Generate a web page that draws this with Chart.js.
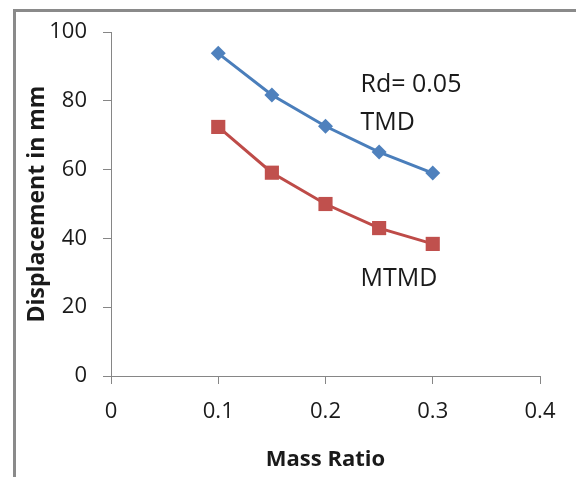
<!DOCTYPE html>
<html>
<head>
<meta charset="utf-8">
<script src="https://cdn.jsdelivr.net/npm/chart.js@4"></script>
<style>
  html, body { margin: 0; padding: 0; background: #fff; }
  #wrap { position: relative; width: 576px; height: 477px; }
</style>
</head>
<body>
<div id="wrap"><canvas id="chart" width="576" height="477"></canvas></div>
<script>
// values
const massRatio = [0.1, 0.15, 0.2, 0.25, 0.3];
const tmd = [93.8, 81.7, 72.6, 65.1, 59.0];
const mtmd = [72.4, 59.1, 50.0, 43.0, 38.4];

// text notes placed in data coordinates
const notes = [
  { text: 'Rd= 0.05', x: 0.2326, y: 82.6 },
  { text: 'TMD', x: 0.2326, y: 71.6 },
  { text: 'MTMD', x: 0.2326, y: 26.3 }
];

const FONT = "'Open Sans', sans-serif";
const AXIS_GREY = '#868686';

// grey frame round the chart, like the exported figure
const framePlugin = {
  id: 'frame',
  beforeDraw(chart) {
    const ctx = chart.ctx;
    ctx.save();
    ctx.fillStyle = '#fff';
    ctx.fillRect(0, 0, chart.width, chart.height);
    ctx.fillStyle = '#8a8a8a';
    ctx.fillRect(13, 9, chart.width - 13, 3);
    ctx.fillRect(13, 9, 3, chart.height - 9);
    ctx.restore();
  }
};

const notesPlugin = {
  id: 'notes',
  afterDatasetsDraw(chart) {
    const ctx = chart.ctx;
    const xs = chart.scales.x, ys = chart.scales.y;
    ctx.save();
    ctx.font = `25px ${FONT}`;
    ctx.fillStyle = '#1a1a1a';
    ctx.textAlign = 'left';
    ctx.textBaseline = 'alphabetic';
    notes.forEach(n => {
      ctx.fillText(n.text, xs.getPixelForValue(n.x), ys.getPixelForValue(n.y));
    });
    ctx.restore();
  }
};

const pts = (xs, ys) => xs.map((x, i) => ({ x, y: ys[i] }));

new Chart(document.getElementById('chart').getContext('2d'), {
  type: 'line',
  data: {
    datasets: [
      {
        label: 'TMD',
        data: pts(massRatio, tmd),
        borderColor: '#4a7ebb',
        backgroundColor: '#4f81bd',
        borderWidth: 3,
        pointStyle: 'rectRot',
        pointRadius: 7.5,
        pointBorderWidth: 0,
        fill: false
      },
      {
        label: 'MTMD',
        data: pts(massRatio, mtmd),
        borderColor: '#be4b48',
        backgroundColor: '#c0504d',
        borderWidth: 3,
        pointStyle: 'rect',
        pointRadius: 10,
        pointBorderWidth: 0,
        fill: false
      }
    ]
  },
  options: {
    responsive: false,
    animation: false,
    layout: { padding: { left: 0, right: 36, top: 32, bottom: 0 } },
    plugins: {
      legend: { display: false },
      tooltip: { enabled: false }
    },
    scales: {
      x: {
        type: 'linear',
        min: 0,
        max: 0.4,
        afterFit: s => { s.height = 101; },
        ticks: {
          stepSize: 0.1,
          padding: 15,
          color: '#1a1a1a',
          font: { family: FONT, size: 22 },
          callback: v => v === 0 ? '0' : v.toFixed(1)
        },
        grid: { drawOnChartArea: false, tickLength: 8, color: AXIS_GREY },
        border: { color: AXIS_GREY },
        title: {
          display: true,
          text: 'Mass Ratio',
          color: '#1a1a1a',
          font: { family: FONT, size: 22, weight: 'bold' },
          padding: { top: 0, bottom: 4 }
        }
      },
      y: {
        min: 0,
        max: 100,
        afterFit: s => { s.width = 111; },
        ticks: {
          stepSize: 20,
          padding: 16,
          color: '#1a1a1a',
          font: { family: FONT, size: 22 }
        },
        grid: { drawOnChartArea: false, tickLength: 8, color: AXIS_GREY },
        border: { color: AXIS_GREY },
        title: {
          display: true,
          text: 'Displacement in mm',
          color: '#1a1a1a',
          font: { family: FONT, size: 23, weight: 'bold' },
          padding: { top: 24, bottom: 0 }
        }
      }
    }
  },
  plugins: [framePlugin, notesPlugin]
});
</script>
</body>
</html>
